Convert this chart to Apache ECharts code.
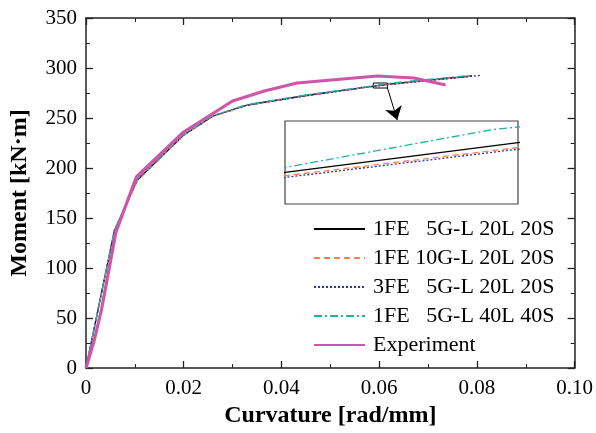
<!DOCTYPE html>
<html>
<head>
<meta charset="utf-8">
<script src="https://cdn.jsdelivr.net/npm/echarts@6/dist/echarts.min.js"></script>
<style>
  html, body { margin: 0; padding: 0; background: #fff; }
  #chart { width: 596px; height: 433px; }
</style>
</head>
<body>
<div id="chart"></div>
<script>
// Moment–curvature curves: four FE models and the test result
const names = [
  '1FE   5G-L 20L 20S',
  '1FE 10G-L 20L 20S',
  '3FE   5G-L 20L 20S',
  '1FE   5G-L 40L 40S',
  'Experiment'
];

const curvFE1 = [0, 0.0058, 0.0105, 0.0200, 0.0260, 0.0330, 0.0450, 0.0588, 0.0617, 0.0700, 0.0790];
const momFE1  = [0, 137, 188, 233, 252, 263, 272.5, 281.9, 283.7, 287.8, 292.0];

const curvFE2 = [0, 0.0058, 0.0105, 0.0200, 0.0260, 0.0330, 0.0450, 0.0588, 0.0617, 0.0700, 0.0790];
const momFE2  = [0, 136, 187, 232.5, 251.5, 262.6, 272.2, 281.7, 283.4, 287.5, 291.8];

const curvFE3 = [0, 0.0058, 0.0105, 0.0200, 0.0260, 0.0330, 0.0450, 0.0588, 0.0617, 0.0700, 0.0810];
const momFE3  = [0, 137.5, 188.5, 233, 252, 262.8, 272.2, 281.6, 283.3, 287.4, 292.8];

const curvFE4 = [0, 0.0058, 0.0105, 0.0200, 0.0260, 0.0330, 0.0450, 0.0588, 0.0614, 0.0700, 0.0785];
const momFE4  = [0, 138, 189, 233.5, 252.5, 263.5, 273, 282.2, 284.5, 288.5, 292.5];

const curvExp = [0, 0.0016, 0.0032, 0.0061, 0.0103, 0.0200, 0.0300, 0.0365, 0.0432, 0.0596, 0.0671, 0.0736];
const momExp  = [0, 26, 59, 135.5, 191, 236, 267, 277, 285, 292, 290, 283];

// magnified window shown in the inset
const zoomCurv = [0.0588, 0.0617];
const zoomMom  = [280, 285];
// arrow from the window to the inset frame
const arrowFrom = [0.0617, 280];
const arrowTo   = [0.0637, 248];

const xTicks = { min: 0, max: 0.1, interval: 0.02 };
const yTicks = { min: 0, max: 350, interval: 50 };

const pair = (xs, ys) => xs.map((x, i) => [x, ys[i]]);

const FONT = 'Liberation Serif';
const AX = '#222';

const styles = [
  { color: '#000000', width: 1.3, type: 'solid' },
  { color: '#FF7F50', width: 1.3, type: [6, 4] },
  { color: '#33339a', width: 1.3, type: [2, 2] },
  { color: '#20B2AA', width: 1.3, type: [8, 3, 2, 3] },
  { color: '#cf55a9', width: 3.2, type: 'solid' }
];

const feData = [
  pair(curvFE1, momFE1),
  pair(curvFE2, momFE2),
  pair(curvFE3, momFE3),
  pair(curvFE4, momFE4)
];
const expData = pair(curvExp, momExp);

function lineSeries(i, data, xi, yi) {
  return {
    type: 'line', name: names[i], data: data,
    xAxisIndex: xi, yAxisIndex: yi,
    showSymbol: false, symbol: 'none', smooth: false, clip: true,
    animation: false, silent: true, z: 3,
    color: styles[i].color,
    lineStyle: { color: styles[i].color, width: styles[i].width, type: styles[i].type }
  };
}

const frameAxis = (extra) => Object.assign({
  type: 'value',
  axisLine: { show: true, onZero: false, lineStyle: { color: AX, width: 1.5 } },
  axisTick: { show: true, inside: true, length: 7, lineStyle: { color: AX, width: 1.3 } },
  minorTick: { show: true, splitNumber: 2, length: 4, lineStyle: { color: AX, width: 1 } },
  splitLine: { show: false },
  minorSplitLine: { show: false }
}, extra);

const series = [];
feData.forEach((d, i) => series.push(lineSeries(i, d, 0, 0)));
series.push(lineSeries(4, expData, 0, 0));
// window marker + arrow on the main plot
series.push({
  type: 'line', data: [], xAxisIndex: 0, yAxisIndex: 0, silent: true, animation: false,
  markArea: {
    silent: true,
    itemStyle: { color: 'rgba(0,0,0,0)', borderColor: '#000', borderWidth: 1 },
    data: [[{ coord: [zoomCurv[0], zoomMom[1]] }, { coord: [zoomCurv[1], zoomMom[0]] }]]
  }
});
series.push({
  type: 'lines', coordinateSystem: 'cartesian2d', xAxisIndex: 0, yAxisIndex: 0,
  silent: true, animation: false,
  symbol: ['none', 'arrow'], symbolSize: 13,
  lineStyle: { color: '#000', width: 1, opacity: 1 },
  itemStyle: { color: '#000' },
  data: [{ coords: [arrowFrom, arrowTo] }]
});
// inset copies of the FE curves
feData.forEach((d, i) => series.push(lineSeries(i, d, 2, 2)));

const chart = echarts.init(document.getElementById('chart'), null, { renderer: 'canvas' });
chart.setOption({
  backgroundColor: '#fff',
  animation: false,
  textStyle: { fontFamily: FONT },
  grid: [
    { left: 84, right: 19, top: 18, bottom: 64 },
    { left: 285, top: 121, width: 233, height: 83, show: true,
      backgroundColor: 'rgba(0,0,0,0)', borderColor: '#444', borderWidth: 1.2 }
  ],
  legend: {
    data: names,
    orient: 'vertical',
    left: 313, top: 218, padding: 0,
    itemWidth: 51, itemHeight: 14, itemGap: 7,
    itemStyle: { opacity: 0 },
    textStyle: { fontFamily: FONT, fontSize: 22, color: '#000', padding: [0, 0, 0, 3] },
    selectedMode: false
  },
  xAxis: [
    frameAxis(Object.assign({
      gridIndex: 0, position: 'bottom',
      name: 'Curvature [rad/mm]', nameLocation: 'middle', nameGap: 36,
      nameTextStyle: { fontFamily: FONT, fontSize: 24, fontWeight: 'bold', color: '#000' },
      axisLabel: { margin: 10, fontFamily: FONT, fontSize: 21, color: '#000',
        formatter: v => v === 0 ? '0' : v.toFixed(2) }
    }, xTicks)),
    frameAxis(Object.assign({
      gridIndex: 0, position: 'top', axisLabel: { show: false }
    }, xTicks)),
    { type: 'value', gridIndex: 1, min: zoomCurv[0], max: zoomCurv[1], show: false }
  ],
  yAxis: [
    frameAxis(Object.assign({
      gridIndex: 0, position: 'left',
      name: 'Moment [kN·m]', nameLocation: 'middle', nameGap: 54,
      nameTextStyle: { fontFamily: FONT, fontSize: 24, fontWeight: 'bold', color: '#000' },
      axisLabel: { margin: 9, fontFamily: FONT, fontSize: 21, color: '#000' }
    }, yTicks)),
    frameAxis(Object.assign({
      gridIndex: 0, position: 'right', axisLabel: { show: false }
    }, yTicks)),
    { type: 'value', gridIndex: 1, min: zoomMom[0], max: zoomMom[1], show: false }
  ],
  series: series
});
</script>
</body>
</html>
